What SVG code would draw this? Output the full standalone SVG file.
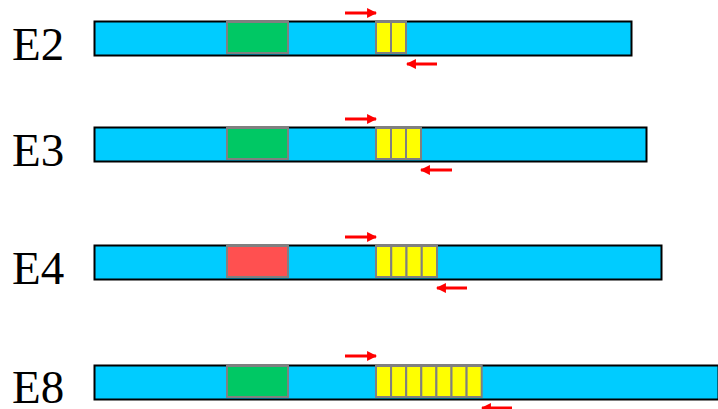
<svg xmlns="http://www.w3.org/2000/svg" width="718" height="409" viewBox="0 0 718 409">
<defs>
<style>
.lbl{font-family:'Liberation Serif',Tinos,'Times New Roman',Times,serif;font-size:47px;fill:#000}
.bar{fill:#00CCFF;stroke:#000;stroke-width:2}
.box{stroke:#808080;stroke-width:2}
.g{fill:#00C864}
.r{fill:#FF5050}
.y{fill:#FFFF00;stroke:#808080;stroke-width:2}
.arr{stroke:#FF0000;stroke-width:3;fill:none}
</style>
<marker id="ah" viewBox="0 0 10 10" refX="9" refY="5" markerWidth="3.3" markerHeight="3.3" orient="auto" markerUnits="strokeWidth">
<path d="M0,0 L10,5 L0,10 z" fill="#FF0000"/>
</marker>
</defs>
<g id="E2">
<text class="lbl" x="12" y="60">E2</text>
<rect class="bar" x="94.5" y="21.5" width="537" height="34"/>
<rect class="box g" x="227" y="22" width="61" height="31"/>
<rect class="y" x="376" y="22" width="15" height="31"/>
<rect class="y" x="391" y="22" width="15" height="31"/>
</g>
<g id="E3">
<text class="lbl" x="12" y="166">E3</text>
<rect class="bar" x="94.5" y="127.5" width="552" height="34"/>
<rect class="box g" x="227" y="128" width="61" height="31"/>
<rect class="y" x="376" y="128" width="15" height="31"/>
<rect class="y" x="391" y="128" width="15" height="31"/>
<rect class="y" x="406" y="128" width="15" height="31"/>
</g>
<g id="E4">
<text class="lbl" x="12" y="284">E4</text>
<rect class="bar" x="94.5" y="245.5" width="567" height="34"/>
<rect class="box r" x="227" y="246" width="61" height="31"/>
<rect class="y" x="376" y="246" width="15.25" height="31"/>
<rect class="y" x="391.25" y="246" width="15.25" height="31"/>
<rect class="y" x="406.5" y="246" width="15.25" height="31"/>
<rect class="y" x="421.75" y="246" width="15.25" height="31"/>
</g>
<g id="E8">
<text class="lbl" x="12" y="403">E8</text>
<rect class="bar" x="94.5" y="365.5" width="624" height="34"/>
<rect class="box g" x="227" y="366" width="61" height="31"/>
<rect class="y" x="376" y="366" width="15.1" height="31"/>
<rect class="y" x="391.1" y="366" width="15.1" height="31"/>
<rect class="y" x="406.2" y="366" width="15.1" height="31"/>
<rect class="y" x="421.3" y="366" width="15.1" height="31"/>
<rect class="y" x="436.4" y="366" width="15.1" height="31"/>
<rect class="y" x="451.5" y="366" width="15.1" height="31"/>
<rect class="y" x="466.6" y="366" width="15.1" height="31"/>
</g>
<g id="connectors">
<line class="arr" x1="345" y1="13" x2="376" y2="13" marker-end="url(#ah)"/>
<line class="arr" x1="437" y1="64" x2="407" y2="64" marker-end="url(#ah)"/>
<line class="arr" x1="345" y1="119" x2="376" y2="119" marker-end="url(#ah)"/>
<line class="arr" x1="452" y1="170" x2="421" y2="170" marker-end="url(#ah)"/>
<line class="arr" x1="345" y1="237" x2="376" y2="237" marker-end="url(#ah)"/>
<line class="arr" x1="467" y1="288" x2="437" y2="288" marker-end="url(#ah)"/>
<line class="arr" x1="345" y1="356" x2="376" y2="356" marker-end="url(#ah)"/>
<line class="arr" x1="512" y1="408" x2="482" y2="408" marker-end="url(#ah)"/>
</g>
</svg>
